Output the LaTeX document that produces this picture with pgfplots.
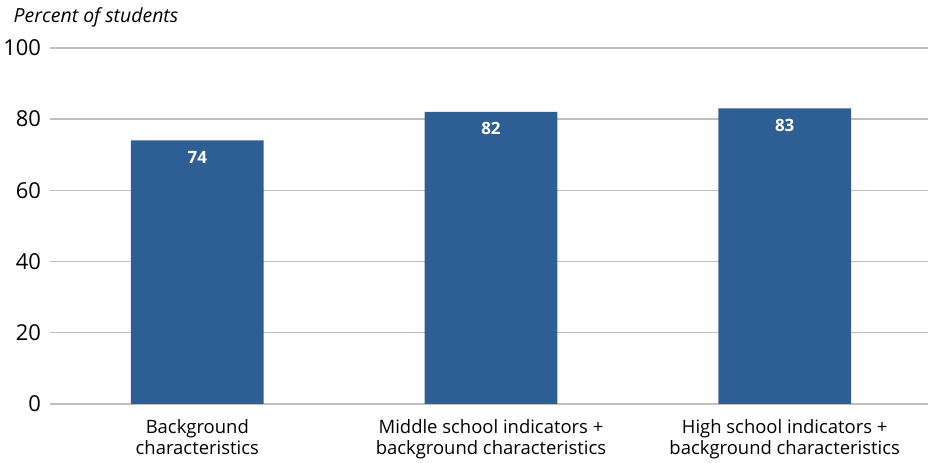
\documentclass[border=0pt]{standalone}
\usepackage{pgfplots}
\pgfplotsset{compat=1.18}
\usepackage{fontspec}
\setmainfont{Open Sans}
\definecolor{barblue}{HTML}{2E5F94}
\definecolor{gridgray}{HTML}{BFBFBF}
\begin{document}
\begin{tikzpicture}
\begin{axis}[
  name=ax,
  scale only axis,
  width=880bp, height=357bp,
  xmin=-0.5, xmax=2.488,
  ymin=0, ymax=100,
  ytick={0,20,...,100},
  xtick={0,1,2},
  xticklabels={{Background\\characteristics},{Middle school indicators +\\background characteristics},{High school indicators +\\background characteristics}},
  xticklabel style={align=center, font=\fontsize{18.5bp}{21bp}\selectfont, yshift=-12bp},
  yticklabel style={font=\fontsize{22bp}{24bp}\selectfont, xshift=-6bp},
  /pgf/number format/assume math mode=true,
  axis line style={draw=none},
  major tick length=0pt,
  ymajorgrids,
  grid style={draw=gridgray, line width=1.5bp},
  ybar,
  bar width=133bp,
  clip=false,
  nodes near coords,
  every node near coord/.append style={font=\fontsize{17bp}{19bp}\selectfont\bfseries, text=white, anchor=center, yshift=-17bp},
]
\addplot[fill=barblue, draw=none] coordinates {(0,74) (1,82) (2,83)};
\end{axis}
\node[anchor=base west, font=\fontsize{19.5bp}{22bp}\selectfont\itshape, inner sep=0pt] at ([shift={(-37bp,25bp)}]ax.north west) {Percent of students};
\path[use as bounding box] ([shift={(-48bp,-57bp)}]ax.south west) rectangle ([shift={(3bp,48bp)}]ax.north east);
\end{tikzpicture}
\end{document}
